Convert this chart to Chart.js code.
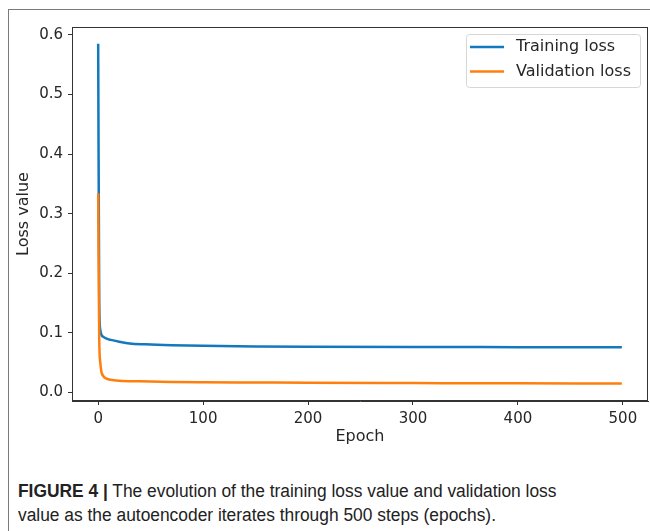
<!DOCTYPE html>
<html>
<head>
<meta charset="utf-8">
<script src="https://cdn.jsdelivr.net/npm/chart.js@4/dist/chart.umd.min.js"></script>
<style>
  html, body { margin: 0; padding: 0; width: 650px; height: 531px; overflow: hidden; background: #fff; }
  #frame { position: absolute; left: 8px; top: 9px; width: 700px; height: 600px;
           border-top: 1.5px solid #7a7a7a; border-left: 1.5px solid #7a7a7a; }
  #wrap { position: absolute; left: 0; top: 0; width: 650px; height: 450px; }
  #caption { position: absolute; left: 18px; top: 479px; width: 680px; white-space: nowrap;
             font-family: "Liberation Sans", Arial, sans-serif;
             font-size: 18px; line-height: 24px; color: #222;
             transform: scaleX(0.965); transform-origin: 0 0; }
  #caption b { font-weight: bold; }
</style>
</head>
<body>
<div id="frame"></div>
<div id="wrap"><canvas id="c" width="650" height="450"></canvas></div>
<div id="caption"><b>FIGURE 4 |</b> The evolution of the training loss value and validation loss<br>value as the autoencoder iterates through 500 steps (epochs).</div>
<script>
// ---- data ----
const trainEpochs = [0, 1, 2, 3, 5, 8, 12, 20, 30, 45, 70, 100, 150, 200, 300, 400, 499];
const trainLoss   = [0.585, 0.150, 0.105, 0.097, 0.093, 0.090, 0.088, 0.085, 0.082, 0.0805, 0.079, 0.078, 0.077, 0.0765, 0.076, 0.0758, 0.0757];
const valEpochs   = [0, 1, 2, 3, 5, 8, 12, 20, 40, 70, 100, 150, 200, 300, 400, 499];
const valLoss     = [0.334, 0.090, 0.050, 0.035, 0.027, 0.023, 0.021, 0.0195, 0.0185, 0.0175, 0.017, 0.0165, 0.016, 0.0155, 0.015, 0.0148];
const xTicks = [0, 100, 200, 300, 400, 500];
const yTicks = [0.0, 0.1, 0.2, 0.3, 0.4, 0.5, 0.6];
const seriesLabels = ['Training loss', 'Validation loss'];
const seriesColors = ['#1279be', '#ff7f0e'];

const toPts = (xs, ys) => xs.map((x, i) => ({ x: x, y: ys[i] }));

const frameBox = {
  id: 'frameBox',
  afterDraw(chart) {
    const { ctx, chartArea: a } = chart;
    ctx.save();
    ctx.strokeStyle = '#333';
    ctx.lineWidth = 1;
    ctx.strokeRect(a.left + 0.5, a.top + 0.5, a.right - a.left - 1, a.bottom - a.top - 1);
    // legend
    const lx = 466, ly = 34, lw = 174, lh = 53;
    ctx.globalAlpha = 0.8;
    ctx.fillStyle = '#fff';
    ctx.beginPath();
    ctx.roundRect(lx + 0.5, ly + 0.5, lw, lh, 3);
    ctx.fill();
    ctx.globalAlpha = 1;
    ctx.strokeStyle = '#d6d6d6';
    ctx.stroke();
    ctx.font = '16px "DejaVu Sans"';
    ctx.textBaseline = 'middle';
    ctx.fillStyle = '#262626';
    chart.data.datasets.forEach((ds, i) => {
      const y = 47 + i * 24.5;
      ctx.strokeStyle = ds.borderColor;
      ctx.lineWidth = 2.5;
      ctx.beginPath();
      ctx.moveTo(470, y);
      ctx.lineTo(504, y);
      ctx.stroke();
      ctx.fillText(ds.label, 516, y);
    });
    ctx.restore();
  }
};

const tickFont = { family: 'DejaVu Sans', size: 15 };
const titleFont = { family: 'DejaVu Sans', size: 16 };

new Chart(document.getElementById('c'), {
  type: 'line',
  data: {
    datasets: [
      { label: seriesLabels[0], data: toPts(trainEpochs, trainLoss), borderColor: seriesColors[0],
        borderWidth: 2.5, pointRadius: 0, fill: false, cubicInterpolationMode: 'monotone', order: 1 },
      { label: seriesLabels[1], data: toPts(valEpochs, valLoss), borderColor: seriesColors[1],
        borderWidth: 2.5, pointRadius: 0, fill: false, cubicInterpolationMode: 'monotone', order: 0 }
    ]
  },
  options: {
    responsive: false,
    animation: false,
    layout: { padding: { top: 27, right: 2, left: 0, bottom: 0 } },
    plugins: { legend: { display: false }, tooltip: { enabled: false } },
    scales: {
      x: {
        type: 'linear', min: -24.95, max: 523.95,
        afterFit: s => { s.height = 49; },
        afterBuildTicks: s => { s.ticks = xTicks.map(v => ({ value: v })); },
        grid: { drawOnChartArea: false, drawTicks: true, tickLength: 4, color: '#333' },
        border: { display: true, color: '#333' },
        ticks: { font: tickFont, color: '#262626', padding: 5, maxRotation: 0 },
        title: { display: true, text: 'Epoch', font: titleFont, color: '#262626', padding: { top: 0, bottom: 4 } }
      },
      y: {
        type: 'linear', min: -0.0146, max: 0.6133,
        afterFit: s => { s.width = 72; },
        afterBuildTicks: s => { s.ticks = yTicks.map(v => ({ value: v })); },
        grid: { drawOnChartArea: false, drawTicks: true, tickLength: 4, color: '#333' },
        border: { display: true, color: '#333' },
        ticks: { font: tickFont, color: '#262626', padding: 5, callback: v => v.toFixed(1) },
        title: { display: true, text: 'Loss value', font: titleFont, color: '#262626', padding: { top: 14, bottom: 0 } }
      }
    }
  },
  plugins: [frameBox]
});
</script>
</body>
</html>
